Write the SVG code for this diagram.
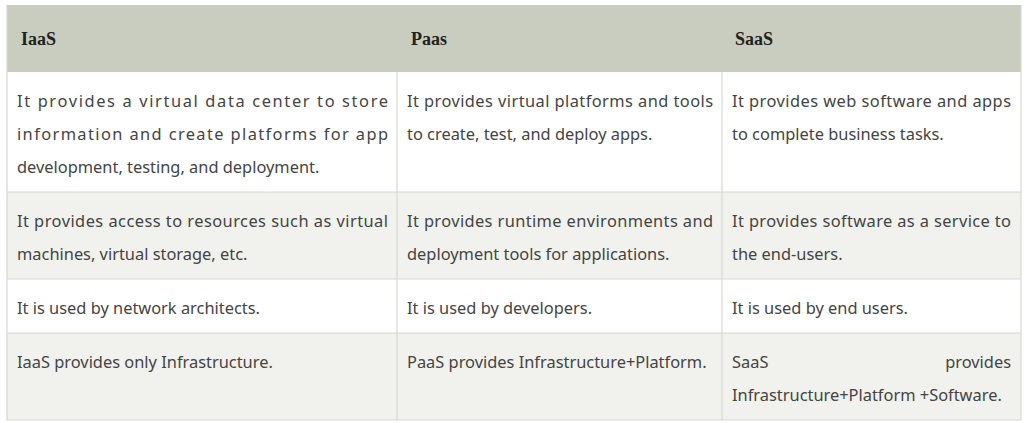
<svg xmlns="http://www.w3.org/2000/svg" width="1026" height="423" viewBox="0 0 1026 423">
<style>
.h{font-family:"Liberation Serif",serif;font-weight:bold;font-size:18px;fill:#222}
.t{font-family:"Noto Sans","Open Sans",sans-serif;font-size:16.4px;fill:#444}
.g{fill:#f1f1ed}
.w{fill:#fff}
.l{stroke:#d8d8d4;stroke-width:1.2;fill:none}
</style>
<rect width="1026" height="423" fill="#fff"/>
<g id="header">
<rect x="7" y="5" width="1014" height="67" fill="#c9cdbf"/>
<text class="h" x="21" y="45">IaaS</text>
<text class="h" x="411" y="45">Paas</text>
<text class="h" x="735" y="45">SaaS</text>
</g>
<g id="rows">
<rect class="w" x="7" y="72" width="1014" height="120"/>
<rect class="g" x="7" y="192" width="1014" height="87"/>
<rect class="w" x="7" y="279" width="1014" height="54"/>
<rect class="g" x="7" y="333" width="1014" height="87"/>
</g>
<g id="grid">
<path class="l" d="M7 5V420H1021V5M397 72V420M722 72V420M7 192H1021M7 279H1021M7 333H1021"/>
</g>
<g id="row1">
<text class="t" x="17" y="107" textLength="371" lengthAdjust="spacing">It provides a virtual data center to store</text>
<text class="t" x="17" y="140" textLength="371" lengthAdjust="spacing">information and create platforms for app</text>
<text class="t" x="17" y="173">development, testing, and deployment.</text>
<text class="t" x="407" y="107" textLength="306" lengthAdjust="spacing">It provides virtual platforms and tools</text>
<text class="t" x="407" y="140">to create, test, and deploy apps.</text>
<text class="t" x="732" y="107" textLength="279" lengthAdjust="spacing">It provides web software and apps</text>
<text class="t" x="732" y="140">to complete business tasks.</text>
</g>
<g id="row2">
<text class="t" x="17" y="227" textLength="371" lengthAdjust="spacing">It provides access to resources such as virtual</text>
<text class="t" x="17" y="260">machines, virtual storage, etc.</text>
<text class="t" x="407" y="227" textLength="306" lengthAdjust="spacing">It provides runtime environments and</text>
<text class="t" x="407" y="260">deployment tools for applications.</text>
<text class="t" x="732" y="227" textLength="279" lengthAdjust="spacing">It provides software as a service to</text>
<text class="t" x="732" y="260">the end-users.</text>
</g>
<g id="row3">
<text class="t" x="17" y="314">It is used by network architects.</text>
<text class="t" x="407" y="314">It is used by developers.</text>
<text class="t" x="732" y="314">It is used by end users.</text>
</g>
<g id="row4">
<text class="t" x="17" y="368">IaaS provides only Infrastructure.</text>
<text class="t" x="407" y="368">PaaS provides Infrastructure+Platform.</text>
<text class="t" x="732" y="368">SaaS</text>
<text class="t" x="1011" y="368" text-anchor="end">provides</text>
<text class="t" x="732" y="401">Infrastructure+Platform +Software.</text>
</g>
</svg>
